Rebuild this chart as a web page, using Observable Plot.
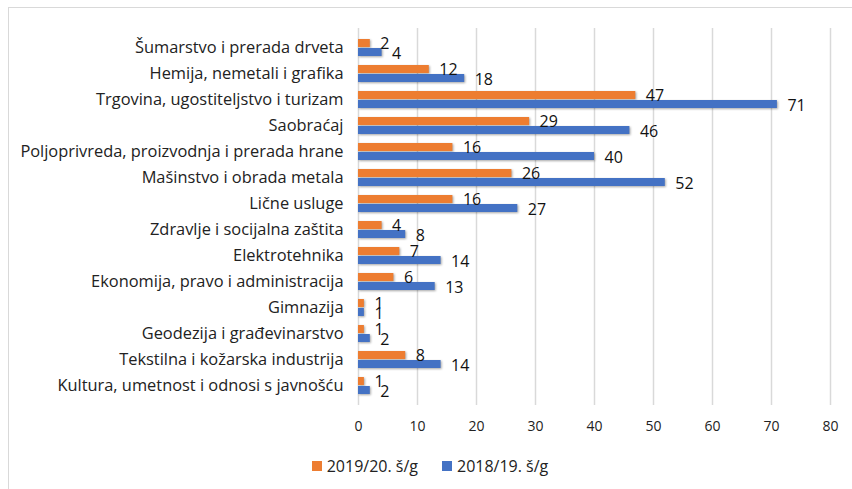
<!DOCTYPE html>
<html>
<head>
<meta charset="utf-8">
<script src="https://cdn.jsdelivr.net/npm/d3@7"></script>
<script src="https://cdn.jsdelivr.net/npm/@observablehq/plot@0.6"></script>
<style>
  html, body { margin: 0; padding: 0; background: #fff; }
  #wrap { position: relative; width: 852px; height: 489px; overflow: hidden; font-family: "Open Sans", Lato, sans-serif; }
  #frame { position: absolute; left: 8px; top: 7px; width: 900px; height: 900px; border: 1px solid #d9d9d9; box-sizing: border-box; pointer-events: none; }
  #chart { position: absolute; left: 0; top: 0; }
  #legend { position: absolute; left: 0; width: 852px; top: 455px; display: flex; justify-content: center; font-size: 16px; color: #222; padding-left: 8px; box-sizing: border-box; }
  .item { display: flex; align-items: center; margin: 0 12px; }
  .sw { width: 10px; height: 10px; margin-right: 5px; }
  svg .bar rect { filter: drop-shadow(1px 1.5px 1px rgba(0,0,0,0.35)); }
</style>
</head>
<body>
<div id="wrap">
  <div id="frame"></div>
  <div id="chart"></div>
  <div id="legend"></div>
</div>
<script>
const categories = [
  "Šumarstvo i prerada drveta",
  "Hemija, nemetali i grafika",
  "Trgovina, ugostiteljstvo i turizam",
  "Saobraćaj",
  "Poljoprivreda, proizvodnja i prerada hrane",
  "Mašinstvo i obrada metala",
  "Lične usluge",
  "Zdravlje i socijalna zaštita",
  "Elektrotehnika",
  "Ekonomija, pravo i administracija",
  "Gimnazija",
  "Geodezija i građevinarstvo",
  "Tekstilna i kožarska industrija",
  "Kultura, umetnost i odnosi s javnošću"
];
const series = ["2019/20. š/g", "2018/19. š/g"];
const values2019 = [2, 12, 47, 29, 16, 26, 16, 4, 7, 6, 1, 1, 8, 1];
const values2018 = [4, 18, 71, 46, 40, 52, 27, 8, 14, 13, 1, 2, 14, 2];
const xTicks = [0, 10, 20, 30, 40, 50, 60, 70, 80];
const colors = ["#ED7D31", "#4472C4"];

const d19 = categories.map((c, i) => ({category: c, value: values2019[i]}));
const d18 = categories.map((c, i) => ({category: c, value: values2018[i]}));

const chart = Plot.plot({
  width: 852,
  height: 445,
  marginLeft: 358,
  marginRight: 22,
  marginTop: 28,
  marginBottom: 40,
  style: {fontFamily: "'Open Sans', Lato, sans-serif", background: "transparent", color: "#222"},
  x: {domain: [0, 80], ticks: xTicks, label: null},
  y: {domain: categories, paddingInner: 0.33, paddingOuter: 0.165, label: null},
  marks: [
    Plot.gridX(xTicks, {stroke: "#d9d9d9", strokeOpacity: 1, strokeWidth: 1.5}),
    Plot.barX(d19, {x: "value", y: "category", fill: colors[0], insetBottom: 9, insetTop: 0, className: "bar"}),
    Plot.barX(d18, {x: "value", y: "category", fill: colors[1], insetTop: 9, insetBottom: 0, className: "bar"}),
    Plot.text(d19, {x: "value", y: "category", text: d => String(d.value), dx: 10, dy: -4, textAnchor: "start", fontSize: 16, fill: "#111"}),
    Plot.text(d18, {x: "value", y: "category", text: d => String(d.value), dx: 10, dy: 6, textAnchor: "start", fontSize: 16, fill: "#111"}),
    Plot.axisX({ticks: xTicks, tickSize: 0, tickPadding: 16, fontSize: 14, label: null}),
    Plot.axisY({tickSize: 0, tickPadding: 15, fontSize: 16.4, label: null})
  ]
});
document.getElementById("chart").appendChild(chart);

const legend = document.getElementById("legend");
series.forEach((s, i) => {
  const item = document.createElement("div");
  item.className = "item";
  const sw = document.createElement("div");
  sw.className = "sw";
  sw.style.background = colors[i];
  const t = document.createElement("span");
  t.textContent = s;
  item.appendChild(sw);
  item.appendChild(t);
  legend.appendChild(item);
});
</script>
</body>
</html>
